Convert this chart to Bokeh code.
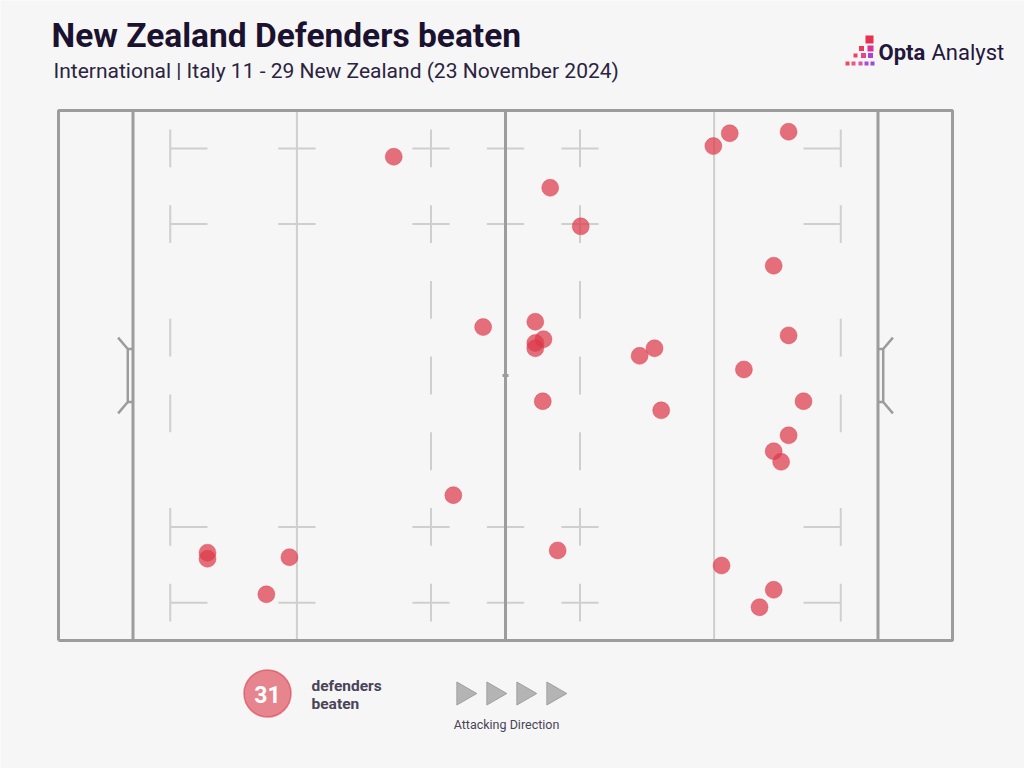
from bokeh.plotting import figure
from bokeh.models import Range1d, Label
from bokeh.embed import file_html
from bokeh.resources import INLINE
import math

# ---------------- data (pitch metres: x 0-120 dead-ball to dead-ball, y 0-70) ----------------
beaten_x = [45.0, 66.0, 70.1, 87.9, 90.1, 98.0, 96.0, 57.0, 64.0, 65.1, 64.0, 64.0,
            78.0, 80.0, 98.0, 92.0, 65.0, 80.9, 100.0, 98.0, 96.0, 97.0, 53.0, 20.0,
            20.0, 31.0, 67.0, 89.0, 96.0, 94.1, 27.9]
beaten_y = [63.9, 59.8, 54.7, 65.3, 67.0, 67.2, 49.5, 41.4, 42.1, 39.8, 39.3, 38.6,
            37.6, 38.6, 40.3, 35.8, 31.6, 30.4, 31.6, 27.1, 25.0, 23.6, 19.2, 11.6,
            10.8, 11.0, 11.9, 9.9, 6.7, 4.4, 6.1]

title = "New Zealand Defenders beaten"
subtitle = "International | Italy 11 - 29 New Zealand (23 November 2024)"
count_label = "defenders"
count_label2 = "beaten"
direction_label = "Attacking Direction"

# ---------------- layout helpers ----------------
W, H = 1024, 768
SX = 7.45    # px per metre horizontally
SY = 7.571   # px per metre vertically
OX, OY = 58, 640  # screen px of pitch origin (x=0, y=0)

def mx(X):
    return (X - OX) / SX

def my(Y):
    return (OY - Y) / SY

BG = "#f6f6f6"
DARK = "#9c9c9c"
LIGHT = "#cfcfcf"
RED = "#dc3a4a"
TXT = "#1b1230"
SUB = "#2b2440"
LEG = "#4a4458"

p = figure(width=W, height=H, output_backend="svg", toolbar_location=None,
           x_range=Range1d(mx(0), mx(W)), y_range=Range1d(my(H), my(0)),
           min_border=0, background_fill_color=BG, border_fill_color=BG)
p.axis.visible = False
p.xgrid.visible = False
p.ygrid.visible = False
p.outline_line_color = None

# ---------------- pitch markings ----------------
lx0, ly0, lx1, ly1 = [], [], [], []

def seg(a, b, c, d):
    lx0.append(a); ly0.append(b); lx1.append(c); ly1.append(d)

for x in [32, 88]:
    seg(x, 0, x, 70)
for x in [32, 60, 50, 70]:
    for y in [5, 15, 55, 65]:
        seg(x - 2.5, y, x + 2.5, y)
for x in [50, 70]:
    for y in [5, 15, 25, 35, 45, 55, 65]:
        seg(x, y - 2.5, x, y + 2.5)
for x, d in [(15, 1), (105, -1)]:
    for y in [5, 15, 30, 40, 55, 65]:
        seg(x, y - 2.5, x, y + 2.5)
    for y in [5, 15, 55, 65]:
        seg(x, y, x + 5 * d, y)
p.segment(lx0, ly0, lx1, ly1, line_color=LIGHT, line_width=2)

# dark lines
p.multi_line(xs=[[0, 120, 120, 0, 0]], ys=[[0, 0, 70, 70, 0]], line_color=DARK, line_width=3)
p.segment([10, 110, 60, 59.6], [0, 0, 0, 35], [10, 110, 60, 60.4], [70, 70, 70, 35],
          line_color=DARK, line_width=3)
# goal posts
gx, gy = [], []
for side in [1, -1]:
    def fx(v):
        return v if side == 1 else 120 - v
    gx.append([fx(8.0), fx(9.3), fx(9.3), fx(8.0)])
    gy.append([40.0, 38.5, 31.5, 30.0])
    gx.append([fx(9.3), fx(10)]); gy.append([38.5, 38.5])
    gx.append([fx(9.3), fx(10)]); gy.append([31.5, 31.5])
p.multi_line(xs=gx, ys=gy, line_color=DARK, line_width=2.5)

# ---------------- data points ----------------
p.scatter(beaten_x, beaten_y, size=17, fill_color=RED, fill_alpha=0.72,
          line_color=RED, line_alpha=0.4, line_width=1)

# ---------------- titles ----------------
p.add_layout(Label(x=mx(51), y=my(35), text=title, text_font="Roboto", text_font_size="33.5px",
                   text_font_style="bold", text_color=TXT, text_baseline="middle"))
p.add_layout(Label(x=mx(53), y=my(70), text=subtitle, text_font="Roboto", text_font_size="21px",
                   text_color=SUB, text_baseline="middle"))

# logo
squares = [
    (869, 39, 8, "#e8304f"),
    (861, 48, 5, "#ea3a55"), (870, 48, 6, "#d4349a"),
    (855, 55, 4, "#ec4460"), (863, 55, 5, "#e04a8a"), (870, 55, 5, "#b83fc8"),
    (847, 63, 4, "#ee4a5e"), (853, 63, 4, "#e65a80"), (860, 63, 4, "#d35aa8"),
    (866, 63, 4, "#b24ad0"), (872, 63, 4, "#9e48d8"),
]
p.rect([mx(s[0]) for s in squares], [my(s[1]) for s in squares],
       width=[s[2] / SX for s in squares], height=[s[2] / SY for s in squares],
       fill_color=[s[3] for s in squares], line_color=None)
p.add_layout(Label(x=mx(878), y=my(52), text="Opta", text_font="Roboto", text_font_size="22px",
                   text_font_style="bold", text_color="#24173c", text_baseline="middle"))
p.add_layout(Label(x=mx(931), y=my(52), text="Analyst", text_font="Roboto", text_font_size="22px",
                   text_color="#24173c", text_baseline="middle"))

# ---------------- legend ----------------
p.scatter([mx(267)], [my(693)], size=47, fill_color=RED, fill_alpha=0.6,
          line_color=RED, line_alpha=0.6, line_width=1.5)
p.add_layout(Label(x=mx(267), y=my(694), text=str(len(beaten_x)), text_font="Roboto",
                   text_font_size="23px", text_font_style="bold", text_color="white",
                   text_align="center", text_baseline="middle"))
p.add_layout(Label(x=mx(311), y=my(685), text=count_label, text_font="Roboto", text_font_size="15.5px",
                   text_font_style="bold", text_color=LEG, text_baseline="middle"))
p.add_layout(Label(x=mx(311), y=my(703), text=count_label2, text_font="Roboto", text_font_size="15.5px",
                   text_font_style="bold", text_color=LEG, text_baseline="middle"))
tri_x = [mx(X) for X in [463, 493, 523, 553]]
p.scatter(tri_x, [my(693)] * 4, marker="triangle", size=23, angle=-math.pi / 2,
          fill_color="#b4b4b4", line_color="#a0a0a0", line_width=1)
p.add_layout(Label(x=mx(506), y=my(724), text=direction_label, text_font="Roboto",
                   text_font_size="12.5px", text_color=LEG, text_align="center",
                   text_baseline="middle"))

open("out.html", "w").write(file_html(p, INLINE))
